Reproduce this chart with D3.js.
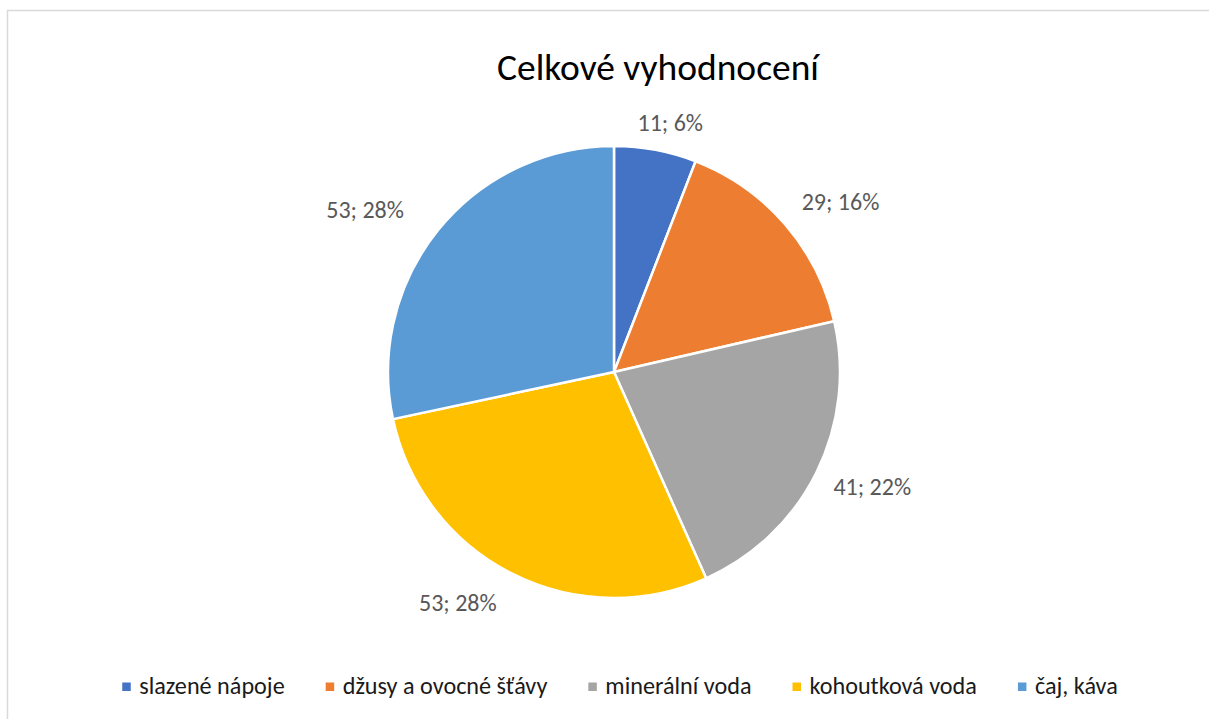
<!DOCTYPE html>
<html><head><meta charset="utf-8">
<script src="https://cdn.jsdelivr.net/npm/d3@7"></script>
<style>
html,body{margin:0;padding:0;background:#fff;}
svg{display:block;font-family:Carlito, Calibri, Lato, sans-serif;}
</style></head>
<body>
<svg id="chart" width="1209" height="719"></svg>
<script>
const title = "Celkové vyhodnocení";
const categories = ["slazené nápoje", "džusy a ovocné šťávy", "minerální voda", "kohoutková voda", "čaj, káva"];
const values = [11, 29, 41, 53, 53];
const percentLabels = ["6%", "16%", "22%", "28%", "28%"];
const colors = ["#4472C4", "#ED7D31", "#A5A5A5", "#FFC000", "#5B9BD5"];
// fine nudges of data-label boxes (best-fit placement of the original)
const labelNudge = [[10, -2], [16, 12], [6, -11], [-34, -10], [-32, 13]];

const W = 1209, H = 719;
const svg = d3.select("#chart");
svg.append("rect").attr("x", 7.5).attr("y", 10.5).attr("width", 1400).attr("height", 900)
  .attr("fill", "#fff").attr("stroke", "#d9d9d9").attr("stroke-width", 1.5);

svg.append("text").attr("x", 658).attr("y", 80).attr("text-anchor", "middle")
  .attr("font-size", 37.5).attr("fill", "#000").text(title);

const cx = 614, cy = 372, R = 226;
const data = categories.map((c, i) => ({cat: c, value: values[i], pct: percentLabels[i], color: colors[i]}));
const pie = d3.pie().value(d => d.value).sort(null);
const arc = d3.arc().innerRadius(0).outerRadius(R);
const g = svg.append("g").attr("transform", `translate(${cx},${cy})`);
const arcs = pie(data);
g.selectAll("path").data(arcs).join("path")
  .attr("d", arc).attr("fill", d => d.data.color)
  .attr("stroke", "#fff").attr("stroke-width", 2.5).attr("stroke-linejoin", "round");

// labels outside (best-fit like)
const labelSize = 24;
const lab = g.selectAll("text.lab").data(arcs).join("text").attr("class", "lab")
  .attr("font-size", labelSize).attr("fill", "#595959").attr("text-anchor", "middle")
  .text(d => d.data.value + "; " + d.data.pct);
lab.each(function(d) {
  const w = this.getComputedTextLength();
  const h = 22 * 0.75;
  const a = (d.startAngle + d.endAngle) / 2;
  const s = Math.sin(a), c = Math.cos(a);
  const pad = d.index === 0 ? 12 : 20;
  const dist = R + pad + Math.abs(s) * (w - 6) / 2 + Math.abs(c) * h / 2;
  const nx = labelNudge[d.index][0], ny = labelNudge[d.index][1];
  d3.select(this).attr("x", s * dist + nx).attr("y", -c * dist + h * 0.45 + ny + 1);
});

// legend
const legSize = 24.2;
const txtOff = 17;
const leg = svg.append("g");
const items = leg.selectAll("g").data(data).join("g");
items.append("rect").attr("width", 8.5).attr("height", 8.5).attr("fill", d => d.color).attr("y", -11.5);
items.append("text").attr("x", txtOff).attr("font-size", legSize).attr("fill", "#1a1a1a").text(d => d.cat);
const widths = [];
items.each(function() { widths.push(txtOff + d3.select(this).select("text").node().getComputedTextLength()); });
const gap = 41;
const total = d3.sum(widths) + gap * (widths.length - 1);
let x0 = 620 - total / 2;
items.attr("transform", (d, i) => { const t = `translate(${x0},694)`; x0 += widths[i] + gap; return t; });
</script>
</body></html>
